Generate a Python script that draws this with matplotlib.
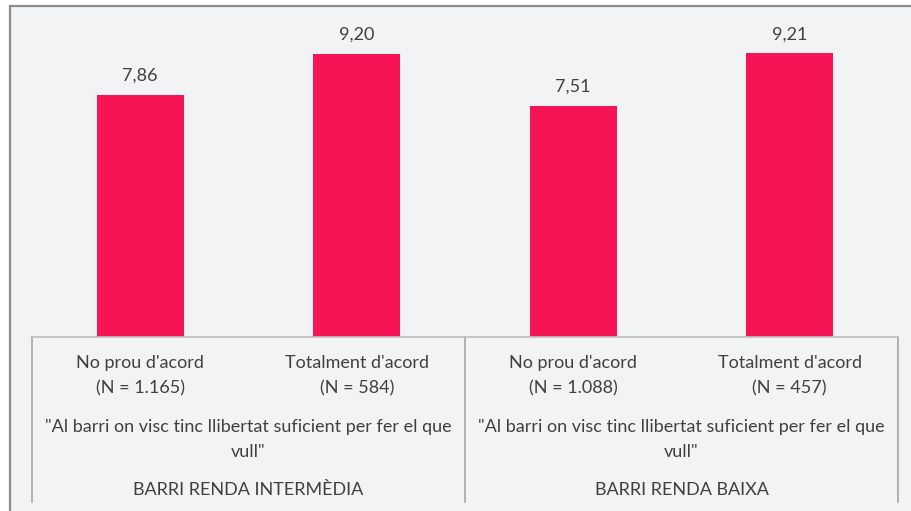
import matplotlib
matplotlib.use("Agg")
import matplotlib.pyplot as plt
from matplotlib.patches import Rectangle
from matplotlib.transforms import blended_transform_factory

# data
categories = ["No prou d'acord\n(N = 1.165)", "Totalment d'acord\n(N = 584)",
              "No prou d'acord\n(N = 1.088)", "Totalment d'acord\n(N = 457)"]
values = [7.86, 9.20, 7.51, 9.21]
value_labels = ["7,86", "9,20", "7,51", "9,21"]
question = "\"Al barri on visc tinc llibertat suficient per fer el que\nvull\""
groups = ["BARRI RENDA INTERMÈDIA", "BARRI RENDA BAIXA"]

BAR_COLOR = "#F61454"
TEXT_COLOR = "#404040"
BG = "#F2F3F5"
FS = 13

plt.rcParams["font.family"] = ["Lato", "DejaVu Sans"]

W, H = 912, 511
fig = plt.figure(figsize=(W / 100, H / 100), dpi=100, facecolor="white")

# outer frame (cropped at the right and bottom)
frame = Rectangle((10 / W, -0.05), 1.1, (H - 6) / H + 0.05,
                  transform=fig.transFigure, facecolor=BG,
                  edgecolor="#8C8C8C", linewidth=1.6, zorder=-5)
fig.add_artist(frame)

# axes: baseline at y=337px, top (10) at 29px, x from 32 to 898
ax_bottom, ax_top = 337, 29
ax = fig.add_axes([32 / W, (H - ax_bottom) / H, 866 / W, (ax_bottom - ax_top) / H])
ax.set_zorder(1)
ax.set_facecolor("none")
ax.set_xlim(-0.5, len(values) - 0.5)
ax.set_ylim(0, 10)
for s in ["top", "right", "left"]:
    ax.spines[s].set_visible(False)
ax.spines["bottom"].set_color("#BFBFBF")
ax.spines["bottom"].set_linewidth(1.2)
ax.set_yticks([])
ax.set_xticks([])

x = list(range(len(values)))
ax.bar(x, values, width=0.4, color=BAR_COLOR, zorder=2)
for xi, v, lab in zip(x, values, value_labels):
    ax.annotate(lab, (xi, v), xytext=(0, 19), textcoords="offset pixels",
                ha="center", va="center", fontsize=FS, color=TEXT_COLOR)


def ay(py):
    return (ax_bottom - py) / (ax_bottom - ax_top)


tr = blended_transform_factory(ax.transData, ax.transAxes)

# category labels
for xi, lab in zip(x, categories):
    ax.text(xi, ay(375.5), lab, transform=tr, ha="center", va="center",
            fontsize=FS, color=TEXT_COLOR, linespacing=1.75)

# question + group labels
for gi, g in enumerate(groups):
    cx = gi * 2 + 0.5
    ax.text(cx, ay(439.5), question, transform=tr, ha="center", va="center",
            fontsize=FS, color=TEXT_COLOR, linespacing=1.72)
    ax.text(cx, ay(490), g, transform=tr, ha="center", va="center",
            fontsize=FS, color=TEXT_COLOR)

# vertical separators of the category axis
for xs in [-0.5, 1.5, 3.5]:
    ax.plot([xs, xs], [0, ay(502)], transform=tr, color="#A6A6A6",
            linewidth=1.2, clip_on=False)

fig.savefig("out.png", dpi=100, facecolor="white")
